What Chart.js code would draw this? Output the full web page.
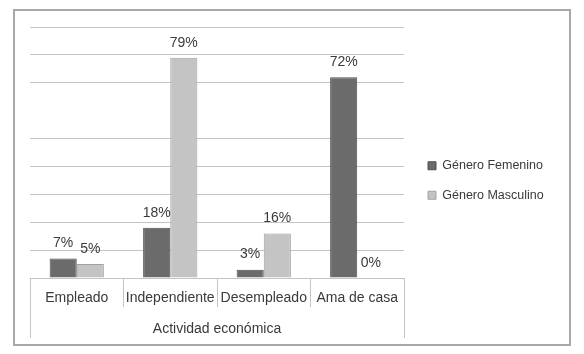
<!DOCTYPE html>
<html>
<head>
<meta charset="utf-8">
<script src="https://cdn.jsdelivr.net/npm/chart.js@4.4.1/dist/chart.umd.min.js"></script>
<style>
  body { margin: 0; background: #fff; }
  #frame {
    position: absolute; left: 13px; top: 9px;
    width: 558px; height: 337px;
    border: 2px solid #a8a8a8; box-sizing: border-box; background: #fff;
  }
  #frame canvas { position: absolute; left: 0; top: 0; }
</style>
</head>
<body>
<div id="frame"><canvas id="myChart" width="554" height="333"></canvas></div>
<script>
// data
var categorias = ['Empleado', 'Independiente', 'Desempleado', 'Ama de casa'];
var femenino = [7, 18, 3, 72];
var masculino = [5, 79, 16, 0];
var grupo = ['Actividad económica'];
var series = ['Género Femenino', 'Género Masculino'];

var fontFam = '"Liberation Sans", Arial, sans-serif';
var txtColor = '#3a3a3a';
var gridColor = '#c4c4c4';

// percent labels over each bar
var barLabels = {
    id: 'barLabels',
    afterDatasetsDraw: function(chart) {
        var c = chart.ctx;
        c.save();
        c.font = '14px ' + fontFam;
        c.fillStyle = txtColor;
        c.textAlign = 'center';
        c.textBaseline = 'middle';
        chart.data.datasets.forEach(function(ds, i) {
            chart.getDatasetMeta(i).data.forEach(function(bar, j) {
                c.fillText(ds.data[j] + '%', bar.x, bar.y - 15);
            });
        });
        c.restore();
    }
};

var ctx = document.getElementById('myChart').getContext('2d');
var chart = new Chart(ctx, {
    type: 'bar',
    data: {
        labels: categorias,
        datasets: [
            {
                label: series[0],
                data: femenino,
                backgroundColor: '#6b6b6b',
                borderColor: '#4e4e4e',
                borderWidth: 1,
                categoryPercentage: 0.58,
                barPercentage: 1
            },
            {
                label: series[1],
                data: masculino,
                backgroundColor: '#c4c4c4',
                borderColor: '#a2a2a2',
                borderWidth: 1,
                categoryPercentage: 0.58,
                barPercentage: 1
            }
        ]
    },
    options: {
        responsive: false,
        animation: false,
        layout: { autoPadding: false, padding: { left: 15, top: 16, right: 18, bottom: 6 } },
        plugins: {
            tooltip: { enabled: false },
            legend: {
                position: 'right',
                align: 'start',
                maxWidth: 140,
                // empty title used as a spacer to push the items down
                title: { display: true, text: '', padding: { top: 102, bottom: 0 }, font: { size: 11.25, lineHeight: 1.2 } },
                labels: {
                    boxWidth: 8, boxHeight: 8, padding: 17,
                    color: txtColor,
                    font: { family: fontFam, size: 12.5 }
                }
            }
        },
        scales: {
            x: {
                grid: { offset: true, drawOnChartArea: false, tickLength: 29, color: gridColor },
                border: { display: true, color: gridColor },
                ticks: {
                    padding: -17, maxRotation: 0, minRotation: 0, autoSkip: false,
                    color: txtColor, font: { family: fontFam, size: 14 }
                },
                afterFit: function(s) { s.height = 29; }
            },
            x2: {
                type: 'category',
                position: 'bottom',
                labels: grupo,
                grid: { offset: true, drawOnChartArea: false, tickLength: 31, color: gridColor },
                border: { display: false },
                ticks: {
                    padding: -17, maxRotation: 0, minRotation: 0,
                    color: txtColor, font: { family: fontFam, size: 14 }
                },
                afterFit: function(s) { s.height = 31; }
            },
            y: {
                position: 'right',
                min: 0, max: 90,
                ticks: { display: false, stepSize: 10 },
                border: { display: false },
                grid: {
                    drawTicks: false,
                    color: function(c) { return c.tick && c.tick.value === 60 ? 'rgba(0,0,0,0)' : gridColor; }
                },
                afterFit: function(s) { s.width = 7; }
            }
        }
    },
    plugins: [barLabels]
});
</script>
</body>
</html>
